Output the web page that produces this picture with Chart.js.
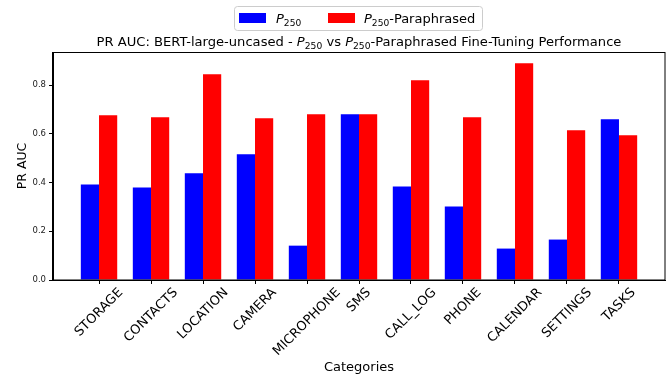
<!DOCTYPE html>
<html>
<head>
<meta charset="utf-8">
<script src="https://cdn.jsdelivr.net/npm/chart.js@4.4.0/dist/chart.umd.min.js"></script>
<style>
  html, body { margin: 0; padding: 0; background: #fff; }
  #wrap { width: 668px; height: 375px; }
</style>
</head>
<body>
<div id="wrap"><canvas id="chart"></canvas></div>
<script>
const categories = ['STORAGE', 'CONTACTS', 'LOCATION', 'CAMERA', 'MICROPHONE', 'SMS', 'CALL_LOG', 'PHONE', 'CALENDAR', 'SETTINGS', 'TASKS'];
const p250 = [0.392, 0.380, 0.438, 0.516, 0.141, 0.680, 0.384, 0.302, 0.129, 0.166, 0.660];
const p250Paraphrased = [0.676, 0.668, 0.845, 0.664, 0.680, 0.680, 0.820, 0.668, 0.890, 0.615, 0.594];
const yTicks = [0.0, 0.2, 0.4, 0.6, 0.8];
const seriesColors = ['#0000ff', '#ff0000'];

const FONT = "'DejaVu Sans'";
Chart.defaults.font.family = FONT;

// text pieces: P is italic, 250 is a subscript (like matplotlib $P_{250}$)
function pSub() {
  return [{t: 'P', style: 'italic'}, {t: '250', style: 'sub'}];
}
const titleParts = [{t: 'PR AUC: BERT-large-uncased - '}, ...pSub(), {t: ' vs '}, ...pSub(), {t: '-Paraphrased Fine-Tuning Performance'}];
const legendParts = [pSub(), [...pSub(), {t: '-Paraphrased'}]];

function setFont(ctx, part, size) {
  if (part.style === 'italic') ctx.font = 'italic ' + size + 'px ' + FONT;
  else if (part.style === 'sub') ctx.font = (size * 0.7) + 'px ' + FONT;
  else ctx.font = size + 'px ' + FONT;
}

function richWidth(ctx, parts, size) {
  let w = 0;
  parts.forEach(p => { setFont(ctx, p, size); w += ctx.measureText(p.t).width; });
  return w;
}

function drawRich(ctx, parts, x, y, size, align) {
  let cx = x;
  if (align === 'center') cx = x - richWidth(ctx, parts, size) / 2;
  ctx.textAlign = 'left';
  ctx.textBaseline = 'alphabetic';
  parts.forEach(p => {
    setFont(ctx, p, size);
    const dy = p.style === 'sub' ? size * 0.22 : 0;
    ctx.fillText(p.t, cx, y + dy);
    cx += ctx.measureText(p.t).width;
  });
}

const decorations = {
  id: 'decorations',
  afterDraw(chart) {
    const ctx = chart.ctx;
    const area = chart.chartArea;
    const xScale = chart.scales.x;
    ctx.save();

    // frame round the plot
    ctx.strokeStyle = '#000';
    ctx.lineWidth = 1;
    ctx.strokeRect(Math.round(area.left) - 0.5, Math.round(area.top) + 0.5,
      Math.round(area.right - area.left) + 0.5, Math.round(area.bottom - area.top) - 0.5);

    // rotated category labels, centred on their ticks
    ctx.fillStyle = '#000';
    ctx.font = '13px ' + FONT;
    ctx.textAlign = 'center';
    ctx.textBaseline = 'middle';
    categories.forEach((c, i) => {
      const x = xScale.getPixelForValue(i);
      const w = ctx.measureText(c).width;
      const h = 13;
      const half = (w + h) / (2 * Math.SQRT2);
      ctx.save();
      ctx.translate(x, area.bottom + 6 + half);
      ctx.rotate(-Math.PI / 4);
      ctx.fillText(c, 0, 0);
      ctx.restore();
    });

    // title
    drawRich(ctx, titleParts, (area.left + area.right) / 2, 46, 13.1, 'center');

    // legend
    ctx.fillStyle = 'rgba(255,255,255,0.8)';
    ctx.strokeStyle = '#cccccc';
    ctx.beginPath();
    ctx.roundRect(234.5, 6.5, 248, 24, 3);
    ctx.fill();
    ctx.stroke();
    const patchX = [239, 328];
    const textX = [276, 364];
    chart.data.datasets.forEach((ds, i) => {
      ctx.fillStyle = ds.backgroundColor;
      ctx.fillRect(patchX[i], 13, 27, 10);
      ctx.fillStyle = '#000';
      drawRich(ctx, legendParts[i], textX[i], 23, 13, 'left');
    });
    ctx.restore();
  }
};

new Chart(document.getElementById('chart'), {
  type: 'bar',
  data: {
    datasets: [
      {label: 'P250', data: p250.map((v, i) => ({x: i, y: v})), backgroundColor: seriesColors[0]},
      {label: 'P250-Paraphrased', data: p250Paraphrased.map((v, i) => ({x: i, y: v})), backgroundColor: seriesColors[1]}
    ]
  },
  options: {
    responsive: true,
    maintainAspectRatio: false,
    animation: false,
    categoryPercentage: 0.7,
    barPercentage: 1.0,
    borderWidth: 0,
    layout: { padding: {top: 52, right: 3, left: 0, bottom: 0} },
    plugins: {
      legend: { display: false },
      title: { display: false },
      tooltip: { enabled: false }
    },
    scales: {
      x: {
        type: 'linear',
        offset: false,
        min: -0.885,
        max: 10.885,
        afterBuildTicks: (scale) => { scale.ticks = categories.map((c, i) => ({value: i})); },
        afterFit: (scale) => { scale.height = 95; },
        ticks: {
          autoSkip: false,
          color: 'rgba(0,0,0,0)',
          callback: (v) => categories[v]
        },
        grid: { offset: false, drawOnChartArea: false, drawTicks: true, tickLength: 4, color: '#000' },
        border: { color: '#000', width: 1 },
        title: { display: true, text: 'Categories', color: '#000', font: {size: 13}, padding: {top: 0, bottom: 0} }
      },
      y: {
        min: 0,
        max: 0.936,
        afterBuildTicks: (scale) => { scale.ticks = yTicks.map(v => ({value: v})); },
        afterFit: (scale) => { scale.width = 53; },
        ticks: {
          color: '#222',
          font: {size: 8.5},
          padding: 3,
          callback: (v) => v.toFixed(1)
        },
        grid: { drawOnChartArea: false, drawTicks: true, tickLength: 4, color: '#000' },
        border: { color: '#000', width: 1 },
        title: { display: true, text: 'PR AUC', color: '#000', font: {size: 12.5}, padding: {top: 15.5, bottom: 0} }
      }
    }
  },
  plugins: [decorations]
});
</script>
</body>
</html>
